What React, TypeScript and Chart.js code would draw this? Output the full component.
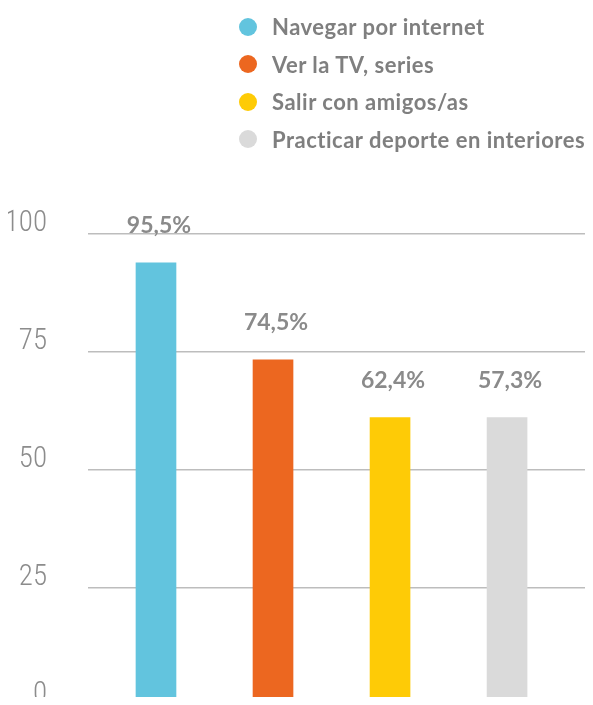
import React, { useEffect, useRef } from "react";
import { Chart, registerables } from "chart.js";

Chart.register(...registerables);

const categories = [
  "Navegar por internet",
  "Ver la TV, series",
  "Salir con amigos/as",
  "Practicar deporte en interiores",
];
const barValues = [93.9, 73.3, 61.0, 61.0];
const valueLabels = ["95,5%", "74,5%", "62,4%", "57,3%"];
const barColors = ["#62C4DE", "#EC6720", "#FECB06", "#DADADA"];
const yMin = 0;
const yMax = 100;
const yStep = 25;

const labelFont = "700 23px Lato, 'Noto Sans', sans-serif";

const valueLabelPlugin = {
  id: "valueLabels",
  afterDatasetsDraw(chart: any) {
    const ctx = chart.ctx;
    const meta = chart.getDatasetMeta(0);
    ctx.save();
    ctx.font = labelFont;
    ctx.fillStyle = "#8a8a8a";
    ctx.textAlign = "center";
    ctx.textBaseline = "middle";
    meta.data.forEach((bar: any, i: number) => {
      ctx.fillText(valueLabels[i], bar.x + 3, bar.y - 37);
    });
    ctx.restore();
  },
};

export default function App() {
  const canvasRef = useRef<HTMLCanvasElement | null>(null);

  useEffect(() => {
    document.body.style.overflow = "hidden";
    const canvas = canvasRef.current;
    if (!canvas) return;
    const chart = new Chart(canvas, {
      type: "bar",
      data: {
        labels: categories,
        datasets: [
          {
            label: "Porcentaje",
            data: barValues.map((v, i) => ({ x: i, y: v })) as any,
            backgroundColor: barColors,
            borderWidth: 0,
            barThickness: 40,
          },
        ],
      },
      options: {
        animation: false,
        responsive: false,
        devicePixelRatio: 1,
        layout: { padding: { top: 226, left: 0, right: 0, bottom: 0 } },
        plugins: {
          legend: { display: false },
          tooltip: { enabled: false },
        },
        scales: {
          x: {
            type: "linear",
            min: -0.581,
            max: 3.666,
            offset: false,
            display: false,
          },
          y: {
            min: yMin,
            max: yMax,
            border: { display: false },
            grid: {
              color: "#bdbdbd",
              lineWidth: 1.5,
              drawTicks: false,
            },
            ticks: {
              stepSize: yStep,
              padding: 41,
              labelOffset: -10,
              color: "#8c8c8c",
              font: {
                family:
                  "'Roboto Condensed', 'Liberation Sans Narrow', 'DejaVu Sans', sans-serif",
                size: 29,
                weight: "300 condensed" as any,
              },
            },
            afterFit(scale: any) {
              scale.width = 80;
              scale.paddingTop = 0;
              scale.paddingBottom = 0;
            },
          },
        },
      },
      plugins: [valueLabelPlugin],
    });
    return () => chart.destroy();
  }, []);

  return (
    <div
      style={{
        position: "relative",
        width: 577,
        height: 697,
        marginBottom: -8,
      }}
    >
      <canvas ref={canvasRef} width={577} height={697} style={{ display: "block" }} />
      <div
        style={{
          position: "absolute",
          left: 231,
          top: 0,
          display: "flex",
          flexDirection: "column",
          fontFamily: "Lato, 'Noto Sans', sans-serif",
          fontWeight: 700,
          fontSize: 22,
          letterSpacing: 0.5,
          color: "#7f7f7f",
        }}
      >
        {categories.map((c, i) => (
          <div
            key={c}
            style={{ display: "flex", alignItems: "center", height: 37.5 }}
          >
            <span
              style={{
                display: "inline-block",
                width: 18,
                height: 18,
                borderRadius: "50%",
                background: barColors[i],
                marginRight: 15,
                flexShrink: 0,
              }}
            />
            <span style={{ whiteSpace: "nowrap" }}>{c}</span>
          </div>
        ))}
      </div>
    </div>
  );
}
